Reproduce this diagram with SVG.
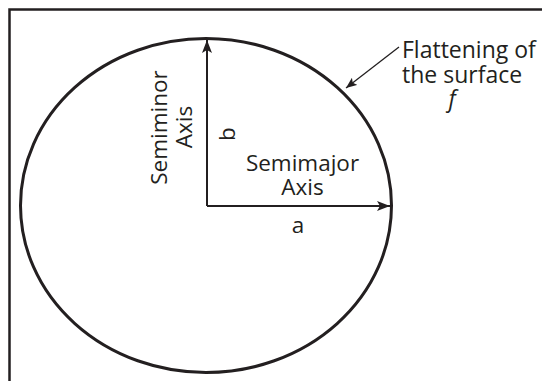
<svg xmlns="http://www.w3.org/2000/svg" width="542" height="381" viewBox="0 0 542 381">
<style>
.lbl{font-family:"Open Sans","Liberation Sans",sans-serif;font-size:22.5px;fill:#231f20}
.frame{fill:none;stroke:#231f20;stroke-width:2.5}
.ell{fill:none;stroke:#231f20;stroke-width:3}
.ax{fill:none;stroke:#231f20;stroke-width:2}
.lead{fill:none;stroke:#231f20;stroke-width:1.3}
</style>
<defs>
<marker id="ah" markerWidth="14" markerHeight="10" refX="13" refY="5" orient="auto" markerUnits="userSpaceOnUse">
<path d="M0,0 L13,5 L0,10 L3,5 Z" fill="#231f20"/>
</marker>
<marker id="ahs" markerWidth="12" markerHeight="9" refX="11" refY="4.5" orient="auto" markerUnits="userSpaceOnUse">
<path d="M0,0 L11,4.5 L0,9 L2.5,4.5 Z" fill="#231f20"/>
</marker>
</defs>
<rect width="542" height="381" fill="#ffffff"/>
<g id="frame">
<path class="frame" d="M542,9.5 L9.5,9.5 L9.5,381"/>
</g>
<g id="ellipse">
<ellipse class="ell" cx="206" cy="205.5" rx="185.5" ry="167"/>
</g>
<g id="connectors">
<path class="ax" d="M207,206 L207,40" marker-end="url(#ah)"/>
<path class="ax" d="M207,206 L390,206" marker-end="url(#ah)"/>
<path class="lead" d="M399,47 L346,88" marker-end="url(#ahs)"/>
</g>
<g id="semiminor">
<text class="lbl" text-anchor="middle" transform="translate(167,127.5) rotate(-90)">Semiminor</text>
<text class="lbl" text-anchor="middle" transform="translate(192,127) rotate(-90)">Axis</text>
</g>
<g id="b-label">
<text class="lbl" text-anchor="middle" transform="translate(235,134) rotate(-90)">b</text>
</g>
<g id="semimajor">
<text class="lbl" text-anchor="middle" x="302.5" y="171">Semimajor</text>
<text class="lbl" text-anchor="middle" x="302.5" y="195">Axis</text>
</g>
<g id="a-label">
<text class="lbl" text-anchor="middle" x="298" y="233">a</text>
</g>
<g id="flattening">
<text class="lbl" x="402" y="58" style="font-size:23px">Flattening of</text>
<text class="lbl" x="402" y="83" style="font-size:23px">the surface</text>
<text class="lbl" font-style="italic" text-anchor="middle" x="452" y="107" style="font-size:23px">f</text>
</g>
</svg>
